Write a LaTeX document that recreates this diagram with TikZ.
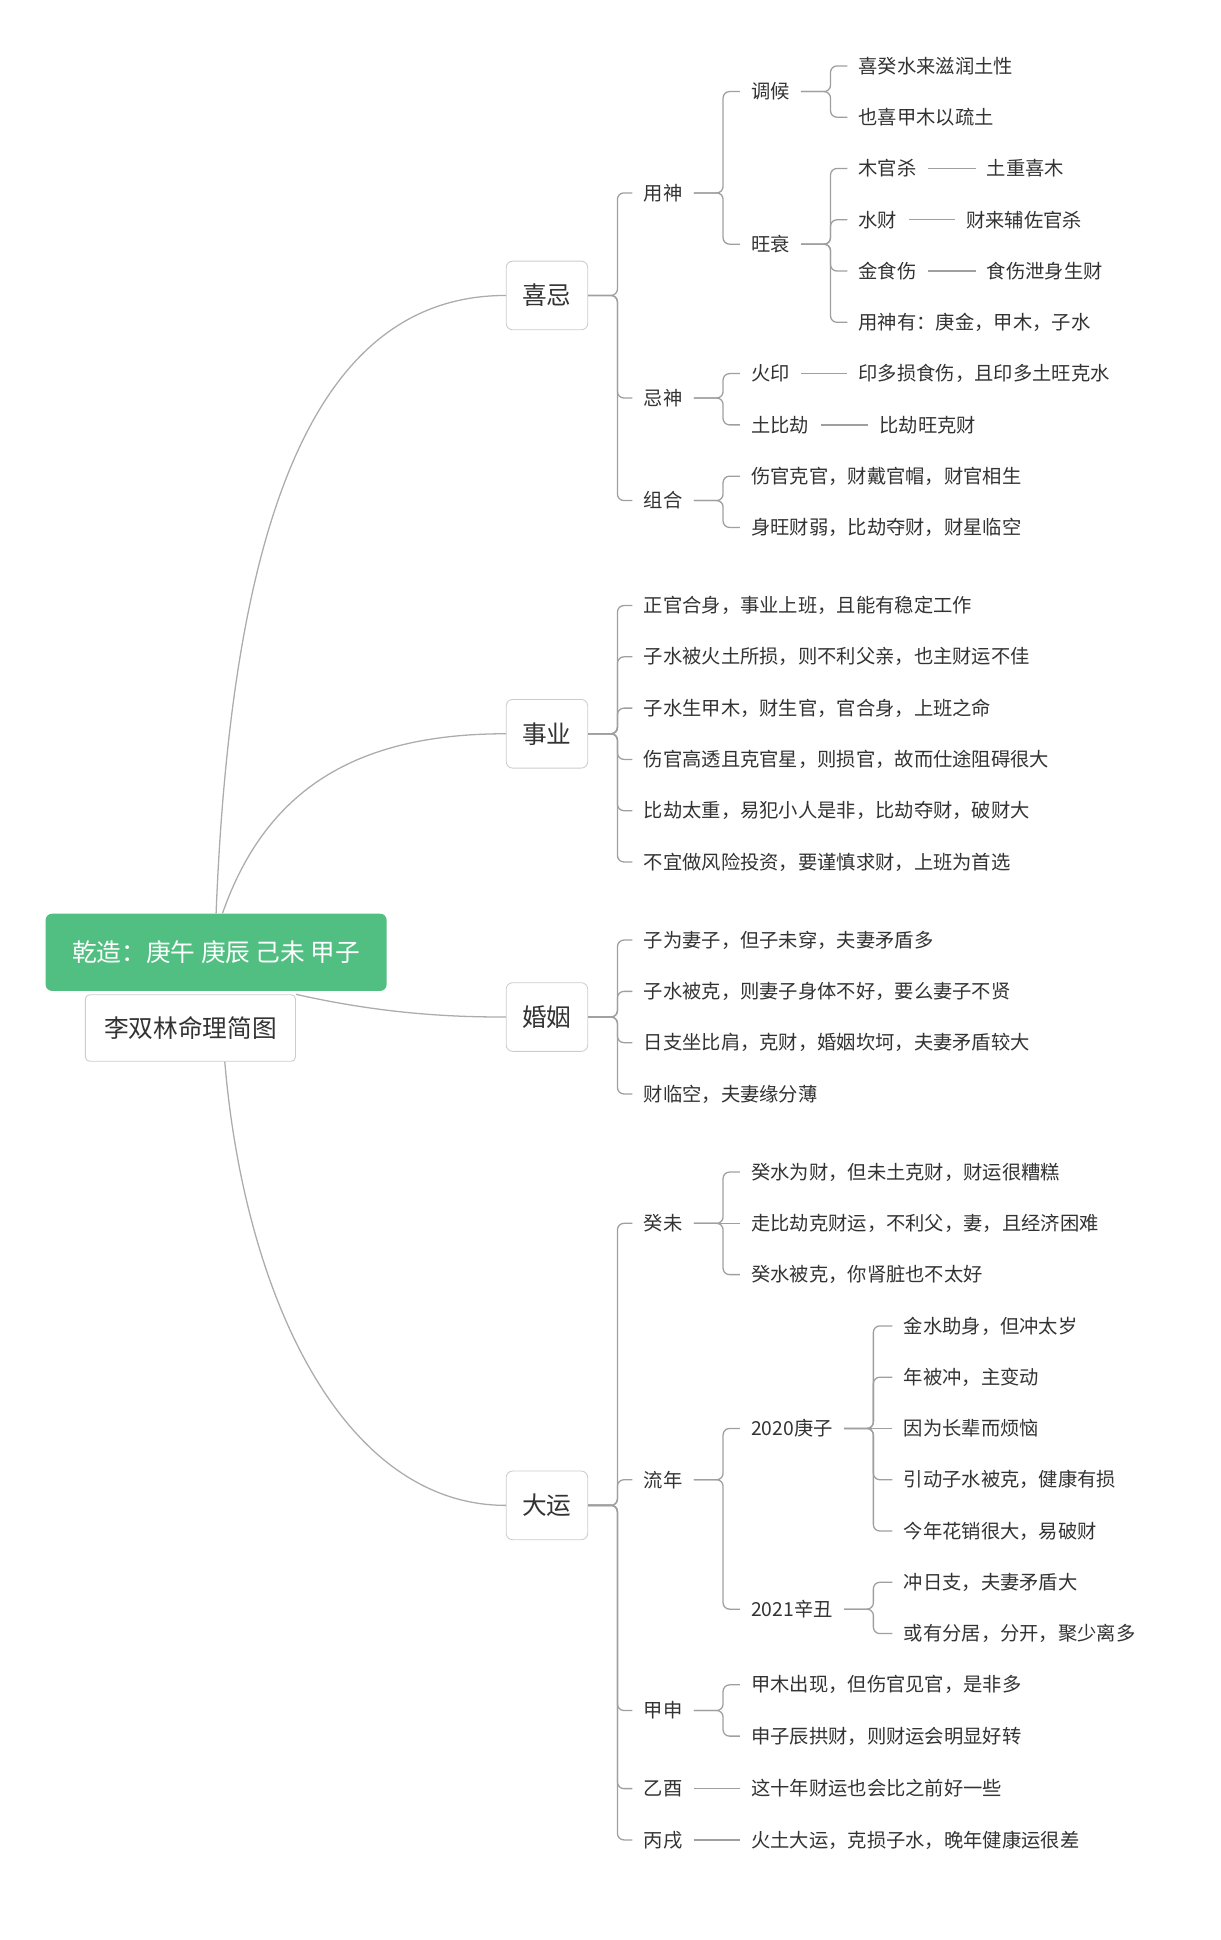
\documentclass[tikz,border=0pt]{standalone}
\usepackage{fontspec}
\newfontfamily\cjk{Noto Sans CJK SC}
\definecolor{rootgreen}{RGB}{82,191,130}
\definecolor{txt}{RGB}{51,51,51}
\tikzset{
  leaf/.style={anchor=west,inner xsep=5.1pt,inner ysep=2pt,text=txt,font=\cjk\fontsize{9}{11}\selectfont},
  topic/.style={draw=gray!40,rounded corners=3pt,minimum width=38pt,minimum height=32pt,text=txt,font=\cjk\fontsize{11.5}{13}\selectfont},
  link/.style={draw=gray!75,line width=0.6pt,rounded corners=3pt},
  curve/.style={draw=gray!65,line width=0.6pt}
}
\begin{document}
\begin{tikzpicture}[x=0.02cm,y=-0.02cm]
		\useasboundingbox (0,0) rectangle (1000,1589);
		%Raiz
		\node [fill=rootgreen,rounded corners=3pt,minimum width=159pt,minimum height=36pt,text=white,font=\cjk\fontsize{11.5}{13}\selectfont] (root) at (177,780) {乾造：庚午 庚辰 己未 甲子};
		\node [draw=gray!40,fill=white,rounded corners=2pt,minimum width=98pt,minimum height=31pt,text=txt,font=\cjk\fontsize{11.5}{13}\selectfont] (sub) at (156,842) {李双林命理简图};

		%Temas
		\node [topic] (xiji) at (448,242) {喜忌};
		\node [topic] (shiye) at (448,601) {事业};
		\node [topic] (hunyin) at (448,833) {婚姻};
		\node [topic] (dayun) at (448,1233) {大运};

		\draw[curve] (root.north) .. controls (190,420) and (260,242) .. (xiji.west);
		\draw[curve] ([xshift=3pt]root.north) .. controls (220,640) and (300,601) .. (shiye.west);
		\draw[curve] (sub.north east) .. controls (320,832) and (380,833) .. (hunyin.west);
		\draw[curve] ([xshift=16pt]sub.south) .. controls (200,1060) and (280,1233) .. (dayun.west);

		%喜忌
		\node [leaf] (yongshen) at (518,158) {用神};
		\node [leaf] (jishen) at (518,326) {忌神};
		\node [leaf] (zuhe) at (518,410) {组合};
		\node [leaf] (tiaohou) at (606,75) {调候};
		\node [leaf] (wangshuai) at (606,200) {旺衰};
		\node [leaf] (th1) at (694,54) {喜癸水来滋润土性};
		\node [leaf] (th2) at (694,96) {也喜甲木以疏土};
		\node [leaf] (ws1) at (694,138) {木官杀};
		\node [leaf] (ws1b) at (799,138) {土重喜木};
		\node [leaf] (ws2) at (694,180) {水财};
		\node [leaf] (ws2b) at (782,180) {财来辅佐官杀};
		\node [leaf] (ws3) at (694,222) {金食伤};
		\node [leaf] (ws3b) at (799,222) {食伤泄身生财};
		\node [leaf] (ws4) at (694,264) {用神有：庚金，甲木，子水};
		\node [leaf] (js1) at (606,306) {火印};
		\node [leaf] (js1b) at (694,306) {印多损食伤，且印多土旺克水};
		\node [leaf] (js2) at (606,348) {土比劫};
		\node [leaf] (js2b) at (711,348) {比劫旺克财};
		\node [leaf] (zh1) at (606,390) {伤官克官，财戴官帽，财官相生};
		\node [leaf] (zh2) at (606,432) {身旺财弱，比劫夺财，财星临空};

		\draw[link] (xiji.east) -- ++(24,0) |- (yongshen.west);
		\draw[link] (xiji.east) -- ++(24,0) |- (jishen.west);
		\draw[link] (xiji.east) -- ++(24,0) |- (zuhe.west);
		\draw[link] (yongshen.east) -- ++(24,0) |- (tiaohou.west);
		\draw[link] (yongshen.east) -- ++(24,0) |- (wangshuai.west);
		\draw[link] (tiaohou.east) -- ++(24,0) |- (th1.west);
		\draw[link] (tiaohou.east) -- ++(24,0) |- (th2.west);
		\draw[link] (wangshuai.east) -- ++(24,0) |- (ws1.west);
		\draw[link] (wangshuai.east) -- ++(24,0) |- (ws2.west);
		\draw[link] (wangshuai.east) -- ++(24,0) |- (ws3.west);
		\draw[link] (wangshuai.east) -- ++(24,0) |- (ws4.west);
		\draw[link] (ws1.east) -- (ws1b.west);
		\draw[link] (ws2.east) -- (ws2b.west);
		\draw[link] (ws3.east) -- (ws3b.west);
		\draw[link] (jishen.east) -- ++(24,0) |- (js1.west);
		\draw[link] (jishen.east) -- ++(24,0) |- (js2.west);
		\draw[link] (js1.east) -- (js1b.west);
		\draw[link] (js2.east) -- (js2b.west);
		\draw[link] (zuhe.east) -- ++(24,0) |- (zh1.west);
		\draw[link] (zuhe.east) -- ++(24,0) |- (zh2.west);

		%事业
		\node [leaf] (sy1) at (518,496) {正官合身，事业上班，且能有稳定工作};
		\node [leaf] (sy2) at (518,538) {子水被火土所损，则不利父亲，也主财运不佳};
		\node [leaf] (sy3) at (518,580) {子水生甲木，财生官，官合身，上班之命};
		\node [leaf] (sy4) at (518,622) {伤官高透且克官星，则损官，故而仕途阻碍很大};
		\node [leaf] (sy5) at (518,664) {比劫太重，易犯小人是非，比劫夺财，破财大};
		\node [leaf] (sy6) at (518,706) {不宜做风险投资，要谨慎求财，上班为首选};
		\draw[link] (shiye.east) -- ++(24,0) |- (sy1.west);
		\draw[link] (shiye.east) -- ++(24,0) |- (sy2.west);
		\draw[link] (shiye.east) -- ++(24,0) |- (sy3.west);
		\draw[link] (shiye.east) -- ++(24,0) |- (sy4.west);
		\draw[link] (shiye.east) -- ++(24,0) |- (sy5.west);
		\draw[link] (shiye.east) -- ++(24,0) |- (sy6.west);

		%婚姻
		\node [leaf] (hy1) at (518,770) {子为妻子，但子未穿，夫妻矛盾多};
		\node [leaf] (hy2) at (518,812) {子水被克，则妻子身体不好，要么妻子不贤};
		\node [leaf] (hy3) at (518,854) {日支坐比肩，克财，婚姻坎坷，夫妻矛盾较大};
		\node [leaf] (hy4) at (518,896) {财临空，夫妻缘分薄};
		\draw[link] (hunyin.east) -- ++(24,0) |- (hy1.west);
		\draw[link] (hunyin.east) -- ++(24,0) |- (hy2.west);
		\draw[link] (hunyin.east) -- ++(24,0) |- (hy3.west);
		\draw[link] (hunyin.east) -- ++(24,0) |- (hy4.west);

		%大运
		\node [leaf] (guiwei) at (518,1002) {癸未};
		\node [leaf] (liunian) at (518,1212) {流年};
		\node [leaf] (jiashen) at (518,1401) {甲申};
		\node [leaf] (yiyou) at (518,1465) {乙酉};
		\node [leaf] (bingxu) at (518,1507) {丙戌};
		\node [leaf] (gw1) at (606,960) {癸水为财，但未土克财，财运很糟糕};
		\node [leaf] (gw2) at (606,1002) {走比劫克财运，不利父，妻，且经济困难};
		\node [leaf] (gw3) at (606,1044) {癸水被克，你肾脏也不太好};
		\node [leaf] (y2020) at (606,1170) {2020庚子};
		\node [leaf] (y2021) at (606,1318) {2021辛丑};
		\node [leaf] (a1) at (731,1086) {金水助身，但冲太岁};
		\node [leaf] (a2) at (731,1128) {年被冲，主变动};
		\node [leaf] (a3) at (731,1170) {因为长辈而烦恼};
		\node [leaf] (a4) at (731,1212) {引动子水被克，健康有损};
		\node [leaf] (a5) at (731,1254) {今年花销很大，易破财};
		\node [leaf] (b1) at (731,1296) {冲日支，夫妻矛盾大};
		\node [leaf] (b2) at (731,1338) {或有分居，分开，聚少离多};
		\node [leaf] (js3) at (606,1380) {甲木出现，但伤官见官，是非多};
		\node [leaf] (js4) at (606,1422) {申子辰拱财，则财运会明显好转};
		\node [leaf] (yy1) at (606,1465) {这十年财运也会比之前好一些};
		\node [leaf] (bx1) at (606,1507) {火土大运，克损子水，晚年健康运很差};

		\draw[link] (dayun.east) -- ++(24,0) |- (guiwei.west);
		\draw[link] (dayun.east) -- ++(24,0) |- (liunian.west);
		\draw[link] (dayun.east) -- ++(24,0) |- (jiashen.west);
		\draw[link] (dayun.east) -- ++(24,0) |- (yiyou.west);
		\draw[link] (dayun.east) -- ++(24,0) |- (bingxu.west);
		\draw[link] (guiwei.east) -- ++(24,0) |- (gw1.west);
		\draw[link] (guiwei.east) -- (gw2.west);
		\draw[link] (guiwei.east) -- ++(24,0) |- (gw3.west);
		\draw[link] (liunian.east) -- ++(24,0) |- (y2020.west);
		\draw[link] (liunian.east) -- ++(24,0) |- (y2021.west);
		\draw[link] (y2020.east) -- ++(24,0) |- (a1.west);
		\draw[link] (y2020.east) -- ++(24,0) |- (a2.west);
		\draw[link] (y2020.east) -- (a3.west);
		\draw[link] (y2020.east) -- ++(24,0) |- (a4.west);
		\draw[link] (y2020.east) -- ++(24,0) |- (a5.west);
		\draw[link] (y2021.east) -- ++(24,0) |- (b1.west);
		\draw[link] (y2021.east) -- ++(24,0) |- (b2.west);
		\draw[link] (jiashen.east) -- ++(24,0) |- (js3.west);
		\draw[link] (jiashen.east) -- ++(24,0) |- (js4.west);
		\draw[link] (yiyou.east) -- (yy1.west);
		\draw[link] (bingxu.east) -- (bx1.west);
\end{tikzpicture}
\end{document}
